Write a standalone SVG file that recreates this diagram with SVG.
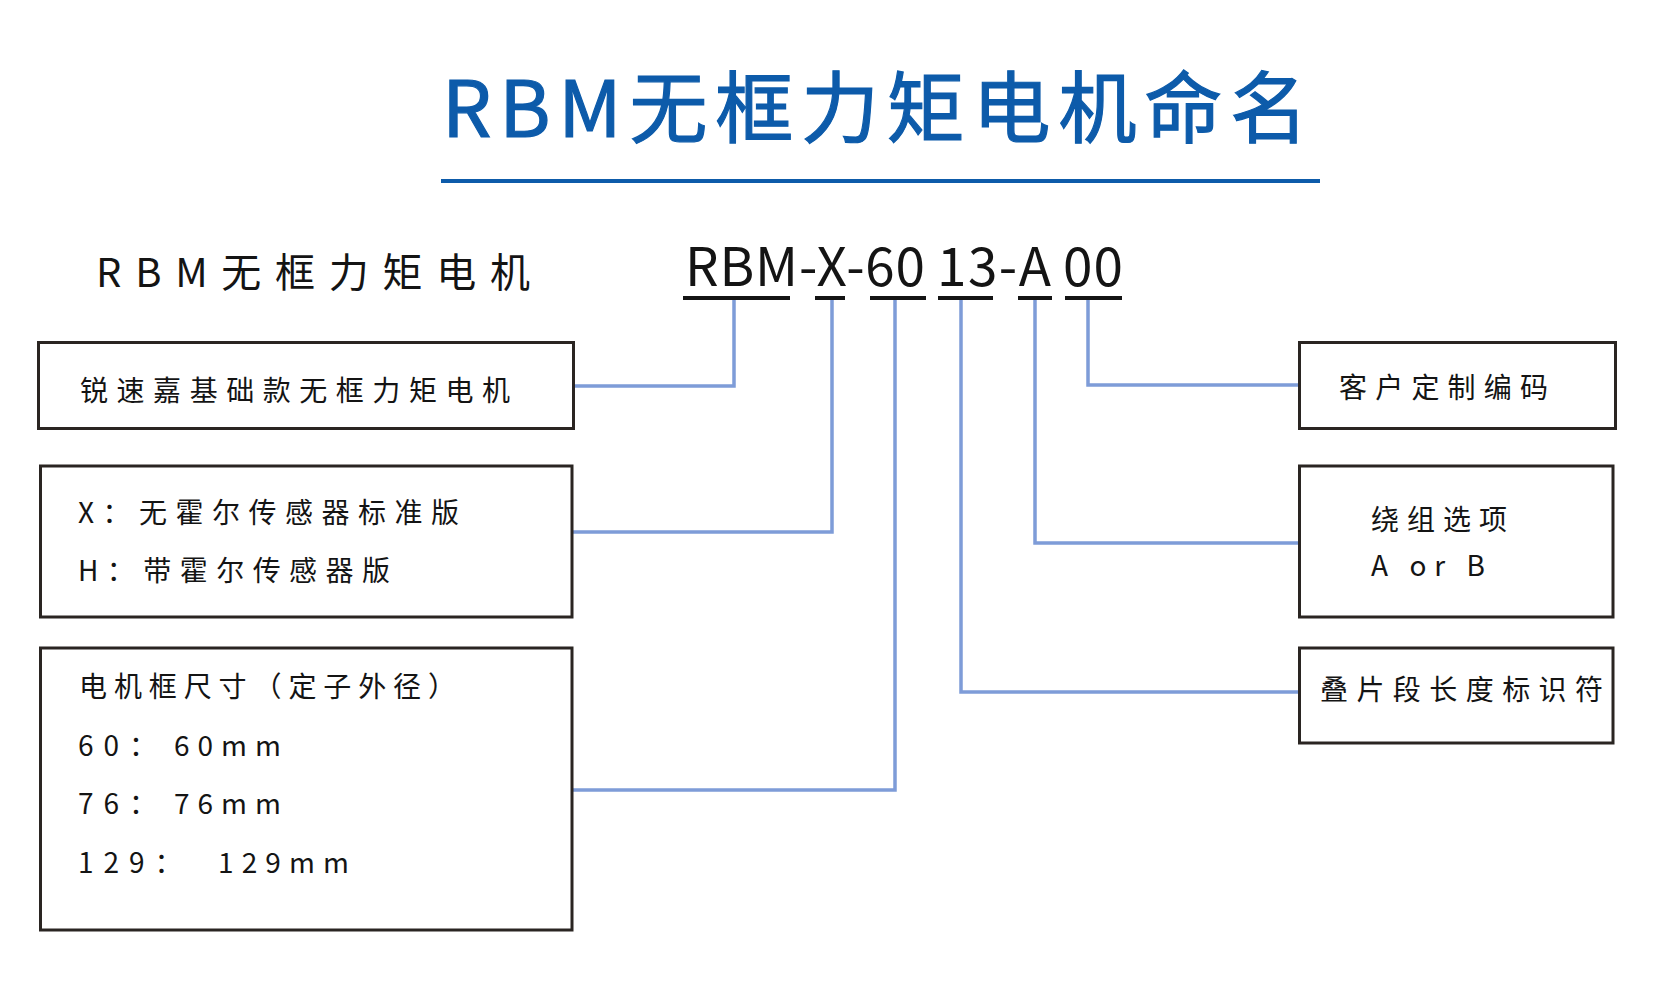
<svg xmlns="http://www.w3.org/2000/svg" width="1654" height="999" viewBox="0 0 1654 999">
<style>
text { font-family: "Noto Sans CJK SC", "Noto Sans", sans-serif; fill: #141414; }
.title { fill: #0D5BAA; font-size: 78px; font-weight: 400; stroke: #0D5BAA; stroke-width: 1.2; }
.sub { font-size: 40px; }
.code { font-size: 53px; }
.lbl { font-size: 28px; }
.num { font-size: 28px; letter-spacing: 10px; }
.box { fill: #ffffff; stroke: #2A2522; stroke-width: 3; }
.conn { fill: none; stroke: #7E9CD8; stroke-width: 3.5; stroke-linejoin: miter; }
.ul { fill: #141414; }
</style>
<rect width="1654" height="999" fill="#ffffff"/>

<g id="title">
  <text class="title" x="442" y="137" textLength="866" lengthAdjust="spacing">RBM无框力矩电机命名</text>
  <rect x="441" y="179" width="879" height="4" fill="#0D5BAA"/>
</g>

<g id="subtitle">
  <text class="sub" x="96" y="287" textLength="434" lengthAdjust="spacing">RBM无框力矩电机</text>
</g>

<g id="code">
  <text class="code" x="685" y="286" textLength="240" lengthAdjust="spacing">RBM-X-60</text>
  <text class="code" x="937" y="286" textLength="114" lengthAdjust="spacing">13-A</text>
  <text class="code" x="1063" y="286" textLength="60" lengthAdjust="spacing">00</text>
  <rect class="ul" x="683" y="296" width="107" height="4"/>
  <rect class="ul" x="815" y="296" width="30" height="4"/>
  <rect class="ul" x="870" y="296" width="56" height="4"/>
  <rect class="ul" x="938" y="296" width="55" height="4"/>
  <rect class="ul" x="1018" y="296" width="34" height="4"/>
  <rect class="ul" x="1065" y="296" width="57" height="4"/>
</g>

<g id="connectors">
  <polyline class="conn" points="734,300 734,386 574,386"/>
  <polyline class="conn" points="832,300 832,532 572,532"/>
  <polyline class="conn" points="895,300 895,790 572,790"/>
  <polyline class="conn" points="961,300 961,692 1300,692"/>
  <polyline class="conn" points="1035,300 1035,543 1299,543"/>
  <polyline class="conn" points="1088,300 1088,385 1300,385"/>
</g>

<g id="node-brand">
  <rect class="box" x="38.5" y="342.5" width="535" height="86"/>
  <text class="lbl" x="80" y="401" textLength="430" lengthAdjust="spacing">锐速嘉基础款无框力矩电机</text>
</g>

<g id="node-hall">
  <rect class="box" x="40.5" y="466" width="531.5" height="151"/>
  <text class="lbl" x="78" y="523" textLength="381" lengthAdjust="spacing">X：无霍尔传感器标准版</text>
  <text class="lbl" x="78" y="581" textLength="312" lengthAdjust="spacing">H：带霍尔传感器版</text>
</g>

<g id="node-frame">
  <rect class="box" x="40.5" y="648" width="531.5" height="282"/>
  <text class="lbl" x="79" y="697" textLength="377" lengthAdjust="spacing">电机框尺寸（定子外径）</text>
  <text class="num" x="78" y="756">60：</text>
  <text class="lbl" x="174" y="756" textLength="107" lengthAdjust="spacing">60mm</text>
  <text class="num" x="78" y="814">76：</text>
  <text class="lbl" x="174" y="814" textLength="107" lengthAdjust="spacing">76mm</text>
  <text class="num" x="78" y="873">129：</text>
  <text class="lbl" x="218" y="873" textLength="131" lengthAdjust="spacing">129mm</text>
</g>

<g id="node-custom">
  <rect class="box" x="1299.5" y="342.5" width="316" height="86"/>
  <text class="lbl" x="1339" y="398" textLength="209" lengthAdjust="spacing">客户定制编码</text>
</g>

<g id="node-winding">
  <rect class="box" x="1299.5" y="466" width="313.5" height="151"/>
  <text class="lbl" x="1371" y="530" textLength="136" lengthAdjust="spacing">绕组选项</text>
  <text class="lbl" x="1371" y="576" textLength="114" lengthAdjust="spacing">A or B</text>
</g>

<g id="node-stack">
  <rect class="box" x="1299.5" y="648" width="313.5" height="95"/>
  <text class="lbl" x="1320" y="700" textLength="283" lengthAdjust="spacing">叠片段长度标识符</text>
</g>
</svg>
